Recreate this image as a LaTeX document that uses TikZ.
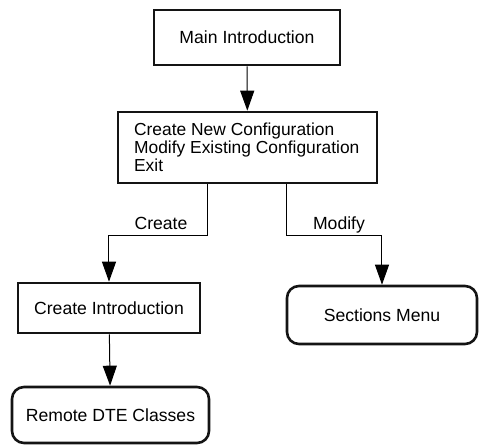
\documentclass[tikz,border=0pt]{standalone}
\usepackage{fontspec}
\setmainfont{Liberation Sans}
\usepackage{tikz}
\usetikzlibrary{arrows.meta, positioning}
\definecolor{boxborder}{RGB}{20, 20, 20}
\tikzstyle{block} = [rectangle, draw=boxborder, line width=1.3pt, text centered,
                     font=\fontsize{8.8}{9}\selectfont, inner sep=0pt]
\tikzstyle{menu} = [block, rounded corners=6pt]
\tikzstyle{arrow} = [-{Triangle[length=10pt, width=7pt]}, line width=0.5pt]
\tikzstyle{lbl} = [font=\fontsize{8.8}{9}\selectfont, anchor=base, inner sep=0pt]

\begin{document}
\begin{tikzpicture}[x=0.5pt, y=-0.5pt]
    \useasboundingbox (0,0) rectangle (479,445);
    \node[block, minimum width=93pt, minimum height=27.5pt] (main) at (247,37.5) {Main Introduction};
    \node[block, minimum width=129.5pt, minimum height=35.5pt] (config) at (247.5,147.5) {};
    \node[lbl, anchor=west, align=left, font=\fontsize{8.7}{8.9}\selectfont,
          xshift=8.5pt] (configtext) at (config.west)
        {Create New Configuration\\ Modify Existing Configuration\\ Exit};
    \node[block, minimum width=91pt, minimum height=25pt] (createintro) at (109,308) {Create Introduction};
    \node[menu, minimum width=95pt, minimum height=29pt] (sections) at (382,315) {Sections Menu};
    \node[menu, minimum width=98.5pt, minimum height=28pt] (remote) at (110.5,415) {Remote DTE Classes};

    \coordinate (cl) at (208,235);
    \coordinate (cr) at (287,235);
    \node[lbl] (createlbl) at (161,229) {Create};
    \node[lbl] (modifylbl) at (339,229) {Modify};

    \draw[arrow] (main) -- (config);
    \draw[arrow] (config.south -| cl) -- (cl) -| (createintro.north);
    \draw[arrow] (config.south -| cr) -- (cr) -| (sections.north);
    \draw[arrow] (createintro) -- (remote);
\end{tikzpicture}
\end{document}
